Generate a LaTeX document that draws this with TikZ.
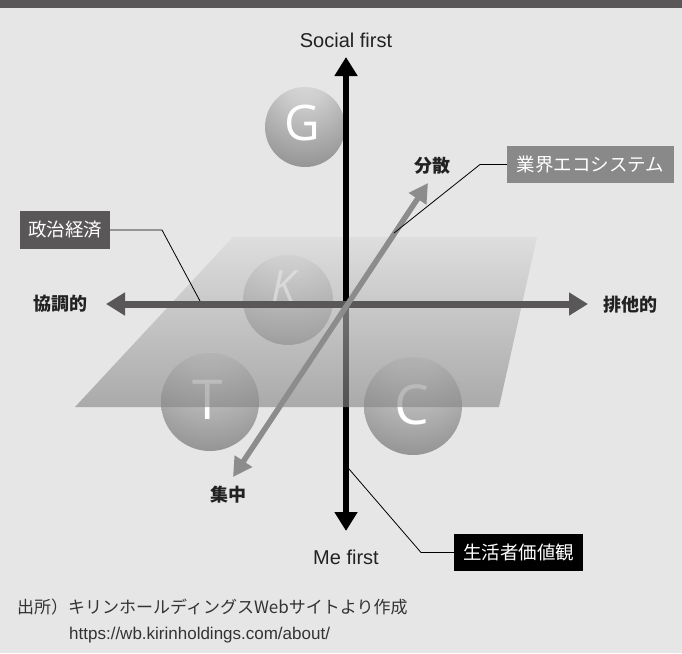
\documentclass[tikz,border=0pt]{standalone}
\usepackage{fontspec}
\setmainfont{Liberation Sans}
\newfontfamily\jp{Noto Sans CJK JP}
\newfontfamily\ballfont{Open Sans}
\usetikzlibrary{arrows.meta}
\definecolor{bg}{HTML}{E6E6E6}
\definecolor{bar}{HTML}{595757}
\definecolor{haxis}{HTML}{595757}
\definecolor{daxis}{HTML}{8C8C8C}
\definecolor{ecobox}{HTML}{898989}
\definecolor{polbox}{HTML}{595757}
\definecolor{txt}{HTML}{222222}
\definecolor{foot}{HTML}{333333}
\definecolor{planetop}{HTML}{D9D9D9}
\definecolor{planebot}{HTML}{868686}
\definecolor{sa}{HTML}{DCDCDC}
\definecolor{sb}{HTML}{CDCDCD}
\definecolor{sc}{HTML}{A8A8A8}
\definecolor{sd}{HTML}{7E7E7E}
\definecolor{se}{HTML}{505050}
\pgfdeclareradialshading{sph}{\pgfpoint{0bp}{34bp}}{color(0bp)=(sa); color(14bp)=(sb); color(34bp)=(sc); color(56bp)=(sd); color(82bp)=(se); color(100bp)=(se)}
\tikzset{
  ball/.style={circle, minimum size=#1, inner sep=0pt, shading=sph},
  ballletter/.style={inner sep=0pt, text=white, font=\ballfont\fontsize{#1}{#1}\selectfont},
  vax/.style={line width=6pt, black},
  hax/.style={line width=7pt, haxis},
  dax/.style={line width=5.5pt, daxis},
  tipv/.tip={Triangle[length=19pt,width=22pt]},
  tipd/.tip={Triangle[length=19pt,width=20pt]},
  axlabel/.style={inner sep=0pt, text=txt, font=\fontsize{20}{24}\selectfont},
  jplabel/.style={inner sep=0pt, text=txt, font=\jp\bfseries\fontsize{18}{20}\selectfont},
  tagbox/.style={inner sep=0pt, text=white, font=\jp\fontsize{18.5}{20}\selectfont},
  leader/.style={line width=0.8pt, black},
}
\begin{document}
\begin{tikzpicture}[x=1pt,y=-1pt]
\useasboundingbox (0,0) rectangle (682,653);
\fill[bg] (0,0) rectangle (682,653);
\fill[bar] (0,0) rectangle (682,8);
% coordinates
\coordinate (O) at (346,304);
\coordinate (vtop) at (346,57);
\coordinate (vbot) at (346,531);
\coordinate (hleft) at (106,304);
\coordinate (hright) at (588,304);
\coordinate (dbot) at (233,477);
\coordinate (dtop) at (428,183);
% spheres
\node[ball=80pt] (G) at (305,127) {};
\node[ballletter=49] (Gl) at (302,123) {G};
\node[ball=90pt] (K) at (288,300) {};
\node[ballletter=43] (Kl) at (284,286) {\itshape K};
\node[ball=98pt] (T) at (210,402) {};
\node[ballletter=55] (Tl) at (208,400) {T};
\node[ball=98pt] (C) at (413,406) {};
\node[ballletter=55] (Cl) at (412,405) {C};
% lower axis behind plane
\draw[vax, -{tipv}] (O) -- (vbot);
% plane
\shade[top color=planetop, bottom color=planebot, opacity=0.62] (233,237) -- (537,237) -- (499,407) -- (75,407) -- cycle;
% upper axis in front
\draw[vax, -{tipv}] (O) -- (vtop);
% horizontal axis
\draw[hax, {tipv}-{tipv}] (hleft) -- (hright);
% diagonal axis
\draw[dax, {tipd}-{tipd}] (dbot) -- (dtop);
% axis labels
\node[axlabel] (soc) at (346,40) {Social first};
\node[axlabel] (me) at (346,557) {Me first};
\node[jplabel] (kyo) at (60,304) {協調的};
\node[jplabel] (hai) at (630,305) {排他的};
\node[jplabel] (bun) at (432,166) {分散};
\node[jplabel] (shu) at (228,495) {集中};
% tag boxes
\node[tagbox, fill=ecobox, minimum width=167pt, minimum height=37pt] (eco) at (590.5,164.5) {業界エコシステム};
\node[tagbox, fill=polbox, minimum width=90pt, minimum height=38pt] (pol) at (65,230) {政治経済};
\node[tagbox, fill=black, minimum width=129pt, minimum height=37pt] (life) at (518.5,552.5) {生活者価値観};
% leaders
\coordinate (polA) at (162,230);
\coordinate (polB) at (200,301);
\draw[leader] (pol.east) -- (polA) -- (polB);
\coordinate (ecoA) at (480,164.5);
\coordinate (ecoB) at (394,233);
\draw[leader] (eco.west) -- (ecoA) -- (ecoB);
\coordinate (lifeA) at (421,552.5);
\coordinate (lifeB) at (349,469);
\draw[leader] (life.west) -- (lifeA) -- (lifeB);
% footer
\node[anchor=west, inner sep=0pt, text=foot, font=\jp\fontsize{17}{20}\selectfont] (src) at (17,607) {出所）キリンホールディングスWebサイトより作成};
\node[anchor=west, inner sep=0pt, text=foot, font=\fontsize{17}{20}\selectfont] (url) at (69,635) {https://wb.kirinholdings.com/about/};
\end{tikzpicture}
\end{document}
